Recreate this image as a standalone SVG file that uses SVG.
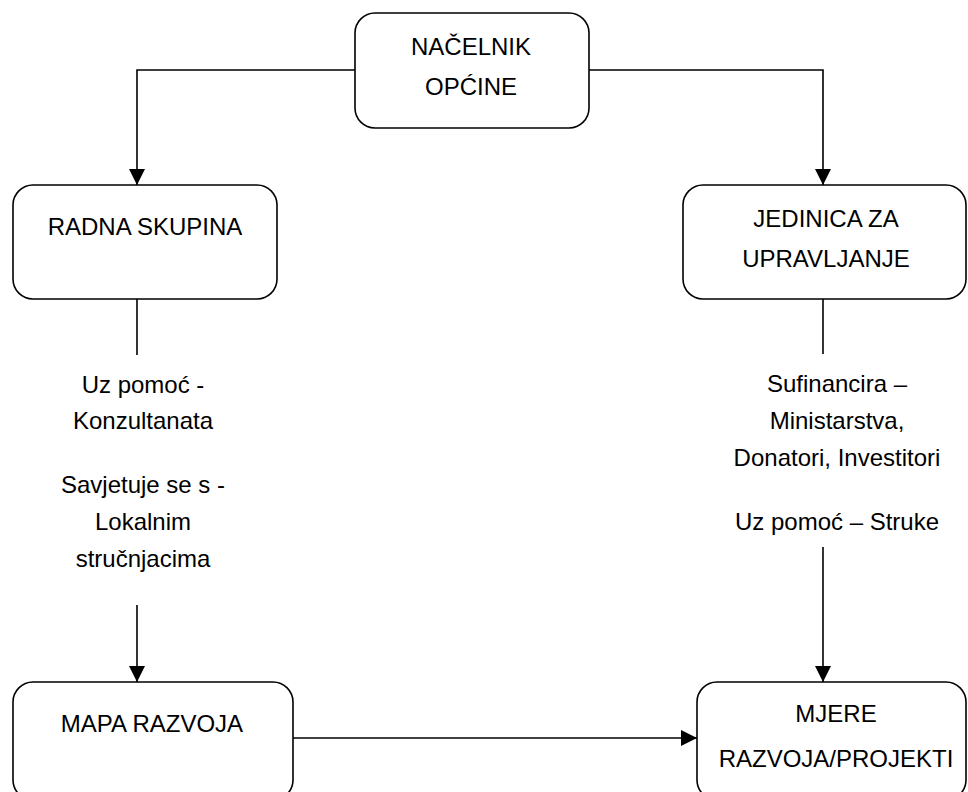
<svg xmlns="http://www.w3.org/2000/svg" width="968" height="792" viewBox="0 0 968 792">
<style>
.box{fill:#fff;stroke:#000;stroke-width:1.6}
.ln{fill:none;stroke:#000;stroke-width:1.6}
.t{font-family:"Liberation Sans",Arial,sans-serif;font-size:24px;fill:#000;text-anchor:middle}
.s{font-family:"Liberation Sans",Arial,sans-serif;font-size:24px;fill:#000;text-anchor:middle}
</style>
<defs>
<marker id="ah" viewBox="0 0 16 16" refX="16" refY="8" markerWidth="16" markerHeight="16" markerUnits="userSpaceOnUse" orient="auto">
<path d="M0,0 L16,8 L0,16 Z" fill="#000"/>
</marker>
</defs>
<rect width="968" height="792" fill="#fff"/>
<g id="connectors">
<path class="ln" d="M355,70 H137 V185" marker-end="url(#ah)"/>
<path class="ln" d="M589,70 H823 V185" marker-end="url(#ah)"/>
<path class="ln" d="M137,299 V355"/>
<path class="ln" d="M137,605 V682" marker-end="url(#ah)"/>
<path class="ln" d="M823,299 V354"/>
<path class="ln" d="M823,547 V682" marker-end="url(#ah)"/>
<path class="ln" d="M293,738 H697" marker-end="url(#ah)"/>
<g id="labels">
<text class="s" x="143" y="393">Uz pomoć -</text>
<text class="s" x="143" y="429">Konzultanata</text>
<text class="s" x="143" y="493">Savjetuje se s -</text>
<text class="s" x="143" y="530">Lokalnim</text>
<text class="s" x="143" y="567">stručnjacima</text>
<text class="s" x="837" y="392">Sufinancira –</text>
<text class="s" x="837" y="429">Ministarstva,</text>
<text class="s" x="837" y="466">Donatori, Investitori</text>
<text class="s" x="837" y="530">Uz pomoć – Struke</text>
</g>
</g>
<g id="nacelnik">
<rect class="box" x="355" y="13" width="234" height="115" rx="20"/>
<text class="t" x="471" y="55">NAČELNIK</text>
<text class="t" x="471" y="95">OPĆINE</text>
</g>
<g id="radna">
<rect class="box" x="13" y="185" width="264" height="114" rx="20"/>
<text class="t" x="145" y="235">RADNA SKUPINA</text>
</g>
<g id="jedinica">
<rect class="box" x="683" y="185" width="283" height="114" rx="20"/>
<text class="t" x="826" y="227">JEDINICA ZA</text>
<text class="t" x="826" y="267">UPRAVLJANJE</text>
</g>
<g id="mapa">
<rect class="box" x="13" y="682" width="280" height="118" rx="20"/>
<text class="t" x="152" y="732">MAPA RAZVOJA</text>
</g>
<g id="mjere">
<rect class="box" x="697" y="682" width="269" height="118" rx="20"/>
<text class="t" x="836" y="722">MJERE</text>
<text class="t" x="836" y="767">RAZVOJA/PROJEKTI</text>
</g>
</svg>
